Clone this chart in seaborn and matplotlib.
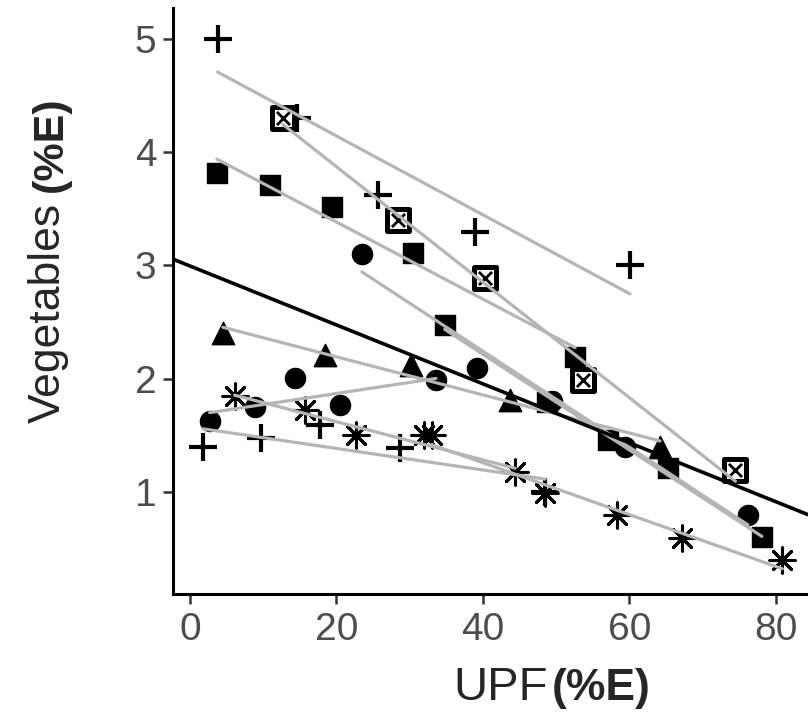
import matplotlib
matplotlib.use("Agg")
import matplotlib.pyplot as plt
import numpy as np
import pandas as pd
import seaborn as sns

# UPF (%E) and vegetables (%E), five points per cohort
plus_top_upf = [3.8, 14.6, 25.7, 38.9, 60.1]
plus_top_veg = [5.00, 4.30, 3.62, 3.29, 3.00]

sqx_upf = [12.7, 28.4, 40.3, 53.7, 74.5]
sqx_veg = [4.30, 3.40, 2.89, 1.99, 1.19]

sq1_upf = [3.7, 10.9, 19.4, 30.5, 52.6]
sq1_veg = [3.81, 3.71, 3.51, 3.11, 2.19]

circ1_upf = [23.5, 39.2, 49.5, 59.4, 76.2]
circ1_veg = [3.10, 2.09, 1.80, 1.40, 0.80]

sq2_upf = [34.8, 48.8, 57.1, 65.3, 78.1]
sq2_veg = [2.47, 1.79, 1.46, 1.21, 0.60]

tri_upf = [4.5, 18.4, 30.2, 43.7, 64.2]
tri_veg = [2.40, 2.21, 2.12, 1.81, 1.40]

circ2_upf = [2.7, 8.9, 14.3, 20.5, 33.6]
circ2_veg = [1.63, 1.75, 2.01, 1.77, 1.99]

ast1_upf = [6.1, 15.7, 22.7, 32.0, 44.4]
ast1_veg = [1.85, 1.72, 1.50, 1.50, 1.18]

ast2_upf = [33.0, 48.5, 58.3, 67.2, 80.9]
ast2_veg = [1.50, 0.99, 0.80, 0.59, 0.40]

plus_bot_upf = [1.8, 9.7, 17.8, 28.7, 48.5]
plus_bot_veg = [1.40, 1.48, 1.59, 1.39, 1.00]

groups = {
    "plus_top": (plus_top_upf, plus_top_veg),
    "sqx": (sqx_upf, sqx_veg),
    "sq1": (sq1_upf, sq1_veg),
    "circ1": (circ1_upf, circ1_veg),
    "sq2": (sq2_upf, sq2_veg),
    "tri": (tri_upf, tri_veg),
    "circ2": (circ2_upf, circ2_veg),
    "ast1": (ast1_upf, ast1_veg),
    "ast2": (ast2_upf, ast2_veg),
    "plus_bot": (plus_bot_upf, plus_bot_veg),
}

df = pd.concat(
    [pd.DataFrame({"upf": u, "veg": v, "group": g}) for g, (u, v) in groups.items()],
    ignore_index=True,
)

# marker look for each cohort
marker_style = {
    "plus_top": dict(marker="+", s=420, linewidths=3.0),
    "plus_bot": dict(marker="+", s=420, linewidths=3.0),
    "sqx": dict(marker="s", s=230, facecolors="white", edgecolors="black", linewidths=3.6),
    "sq1": dict(marker="s", s=200),
    "sq2": dict(marker="s", s=200),
    "circ1": dict(marker="o", s=210),
    "circ2": dict(marker="o", s=210),
    "tri": dict(marker="^", s=260),
    "ast1": dict(marker=(8, 2, 0), s=330, linewidths=2.2),
    "ast2": dict(marker=(8, 2, 0), s=330, linewidths=2.2),
}

sns.set_theme(style="ticks")
plt.rcParams["font.family"] = ["Liberation Sans", "DejaVu Sans"]

fig = plt.figure(figsize=(8.08, 7.13), dpi=100)
ax = fig.add_axes([173 / 808, 119 / 713, 635 / 808, 586 / 713])
ax.set_xlim(-2.3, 84.4)
ax.set_ylim(0.10, 5.27)

for g, sub in df.groupby("group", sort=False):
    st = dict(marker_style[g])
    st.setdefault("color", "black")
    ax.scatter(sub["upf"], sub["veg"], zorder=2, **st)
    if g == "sqx":
        ax.scatter(sub["upf"], sub["veg"], marker="x", s=90, color="black",
                   linewidths=2.0, zorder=2)
    sns.regplot(data=sub, x="upf", y="veg", ax=ax, scatter=False, ci=None,
                truncate=True, line_kws=dict(color="#b5b5b5", lw=2.3, zorder=3))

# pooled fit across all cohorts
sns.regplot(data=df, x="upf", y="veg", ax=ax, scatter=False, ci=None,
            truncate=False, line_kws=dict(color="black", lw=2.6, zorder=4))

ax.set_xlim(-2.3, 84.4)
ax.set_ylim(0.10, 5.27)
ax.set_xticks([0, 20, 40, 60, 80])
ax.set_yticks([1, 2, 3, 4, 5])
ax.set_xlabel("")
ax.set_ylabel("")
ax.tick_params(axis="both", labelsize=28, labelcolor="#4d4d4d", length=7,
               width=1.8, color="#333333")
ax.tick_params(axis="x", pad=6)
ax.tick_params(axis="y", pad=5)
for side in ["left", "bottom"]:
    ax.spines[side].set_linewidth(2.2)
    ax.spines[side].set_color("black")
sns.despine(ax=ax)

# axis titles: regular name + bold unit
fig.text(548 / 808, 1 - 700 / 713, "UPF", fontsize=34, ha="right", va="baseline")
fig.text(552 / 808, 1 - 700 / 713, "(%E)", fontsize=32, fontweight="bold",
         ha="left", va="baseline")
fig.text(60 / 808, 1 - 423 / 713, "Vegetables", fontsize=32, rotation=90,
         rotation_mode="anchor", ha="left", va="baseline")
fig.text(62 / 808, 1 - 192 / 713, "(%E)", fontsize=31, fontweight="bold",
         rotation=90, rotation_mode="anchor", ha="left", va="baseline")

fig.savefig("out.png", dpi=100)
